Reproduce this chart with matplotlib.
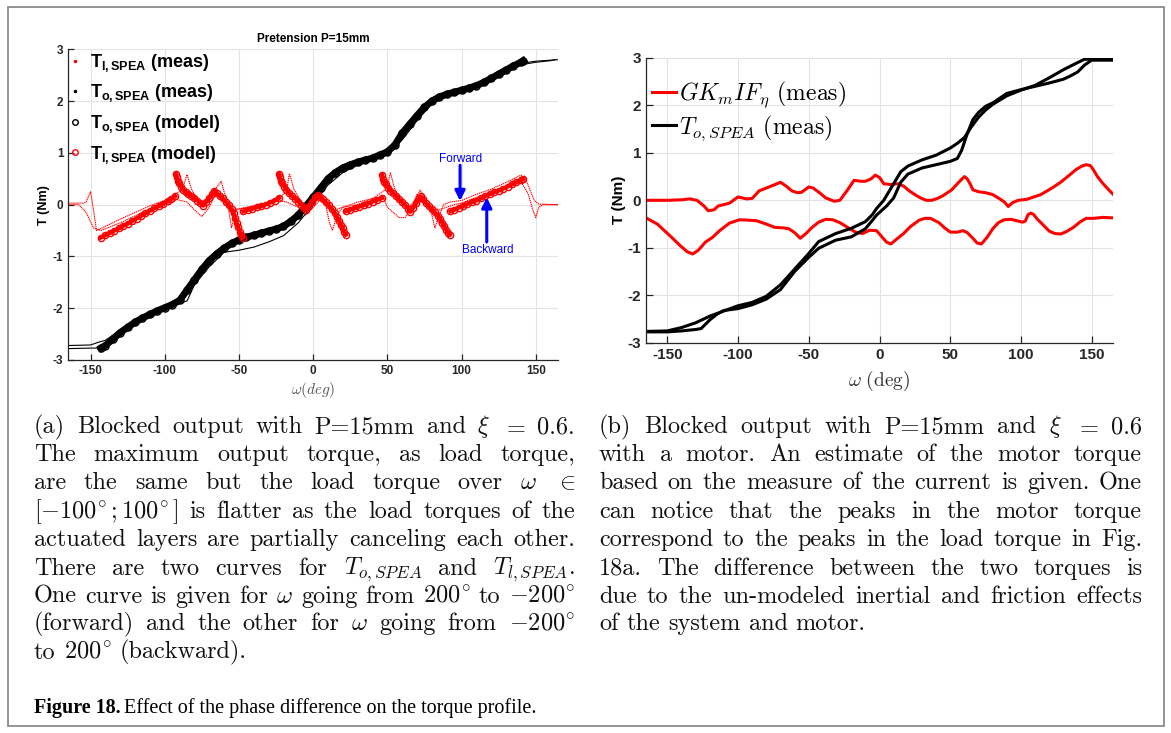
import numpy as np
import matplotlib
matplotlib.use('Agg')
import matplotlib.pyplot as plt
from matplotlib.font_manager import FontProperties
from matplotlib.lines import Line2D
from matplotlib.patches import Rectangle

plt.rcParams['axes.unicode_minus'] = False
plt.rcParams['mathtext.rm'] = 'Liberation Sans'
plt.rcParams['mathtext.bf'] = 'Liberation Sans:bold'
plt.rcParams['mathtext.it'] = 'Liberation Sans:italic'

# ---------------- data, panel (a) ----------------
# black model (thick band of circles)
to_model_x = [-143, -140, -135, -130, -125, -120, -115, -110, -105, -100, -95, -90, -85, -80, -75,
              -70, -65, -60, -55, -50, -45, -40, -35, -30, -25, -20, -15, -10, -5, 0, 5, 10, 15,
              20, 25, 30, 35, 40, 45, 50, 55, 60, 65, 70, 75, 80, 85, 90, 95, 100, 105, 110, 115,
              120, 125, 130, 135, 140, 141.5]
to_model_y = [-2.77, -2.72, -2.6, -2.47, -2.37, -2.27, -2.19, -2.12, -2.05, -1.99, -1.93, -1.85,
              -1.65, -1.45, -1.25, -1.08, -0.95, -0.84, -0.75, -0.68, -0.63, -0.59, -0.55, -0.51,
              -0.47, -0.42, -0.32, -0.2, -0.03, 0.14, 0.32, 0.5, 0.62, 0.71, 0.77, 0.82, 0.86, 0.9,
              0.96, 1.02, 1.15, 1.38, 1.55, 1.72, 1.88, 2.0, 2.08, 2.13, 2.17, 2.21, 2.25, 2.3,
              2.36, 2.44, 2.52, 2.6, 2.68, 2.75, 2.78]

# black measured, two branches
to_meas_a_x = [-165, -150, -145, -140, -130, -120, -110, -100, -90, -80, -70, -60, -50, -40, -30,
               -20, -10, 0, 10, 20, 30, 40, 50, 60, 70, 80, 90, 100, 110, 120, 130, 140, 150, 165]
to_meas_a_y = [-2.72, -2.71, -2.66, -2.62, -2.42, -2.24, -2.1, -1.98, -1.84, -1.45, -1.1, -0.84,
               -0.7, -0.61, -0.5, -0.4, -0.17, 0.15, 0.5, 0.7, 0.82, 0.9, 1.02, 1.33, 1.7, 2.0,
               2.13, 2.22, 2.32, 2.45, 2.6, 2.73, 2.77, 2.8]
to_meas_b_x = [-165, -150, -143, -130, -120, -110, -100, -90, -85, -80, -70, -60, -50, -40, -30,
               -20, -10, 0, 10, 20, 30, 40, 50, 60, 70, 80, 90, 100, 110, 120, 130, 140, 150,
               160, 163]
to_meas_b_y = [-2.78, -2.77, -2.77, -2.5, -2.3, -2.14, -2.04, -1.9, -1.86, -1.55, -1.2, -0.92,
               -0.88, -0.82, -0.72, -0.6, -0.35, 0.0, 0.38, 0.62, 0.76, 0.86, 0.98, 1.25, 1.62,
               1.95, 2.1, 2.2, 2.3, 2.42, 2.57, 2.7, 2.75, 2.78, 2.8]

# red model (circles), pieces separated by NaN
tl_model_x = [-143.3, -140, -137, -134, -131, -128, -125, -122, -119, -116, -113, -110, -107, -104,
              -101, -98, -95.5, -93, np.nan,
              -92.5, -92, -91.3, -90.4, -89, -87.5, -86, -84, -82, -80, -78, -76, -74, -72, -70,
              -68, -66.5, -65, -63, -61, -59, -57, -55, -53.5, -52.5, -51.5, -50.5, -49.5, -48.5,
              -47.5, np.nan,
              -47, -44, -41, -38, -35, -32, -29, -26, -23, np.nan,
              -23, -22.5, -21.8, -20.8, -19.5, -18, -16, -14, -12, -10, -8, -6, -4.5, -2.5, -0.5,
              1.5, 3, 4.5, 6.5, 8.5, 10.5, 12.5, 14.5, 16, 17.5, 18.7, 19.8, 20.8, 22, np.nan,
              22, 25, 28, 31, 34, 37, 40, 43, 46.5, np.nan,
              46.5, 47, 47.8, 49, 50.5, 52, 54, 56, 58, 60, 62, 64, 65.5, 67.5, 69.5, 71.5, 72.5,
              74, 76, 78, 80, 82, 84, 85.5, 87, 88.5, 89.7, 90.8, 92, np.nan,
              92.5, 95, 98, 101, 104, 107, 110, 113, 116, 119, 122, 125, 128, 131, 134, 137, 140,
              141.6]
tl_model_y = [-0.64, -0.59, -0.55, -0.5, -0.46, -0.41, -0.37, -0.32, -0.27, -0.22, -0.17, -0.12,
              -0.07, -0.03, 0.02, 0.07, 0.11, 0.16, np.nan,
              0.6, 0.53, 0.46, 0.41, 0.35, 0.29, 0.24, 0.2, 0.16, 0.12, 0.08, 0.03, -0.02, 0.05,
              0.12, 0.2, 0.27, 0.22, 0.17, 0.12, 0.06, 0.0, -0.08, -0.17, -0.26, -0.35, -0.44,
              -0.52, -0.58, -0.64, np.nan,
              -0.13, -0.1, -0.08, -0.05, -0.03, 0.0, 0.04, 0.08, 0.13, np.nan,
              0.6, 0.53, 0.46, 0.41, 0.35, 0.29, 0.22, 0.16, 0.11, 0.06, 0.0, -0.06, -0.1, -0.02,
              0.06, 0.14, 0.19, 0.15, 0.1, 0.05, -0.01, -0.08, -0.16, -0.23, -0.31, -0.39, -0.46,
              -0.52, -0.58, np.nan,
              -0.13, -0.1, -0.07, -0.04, -0.01, 0.02, 0.06, 0.09, 0.13, np.nan,
              0.57, 0.5, 0.44, 0.39, 0.33, 0.27, 0.22, 0.16, 0.1, 0.05, -0.01, -0.08, -0.14, -0.06,
              0.03, 0.12, 0.16, 0.1, 0.03, -0.03, -0.09, -0.15, -0.21, -0.27, -0.35, -0.42, -0.49,
              -0.54, -0.58, np.nan,
              -0.13, -0.1, -0.06, -0.03, 0.01, 0.05, 0.08, 0.12, 0.16, 0.2, 0.24, 0.27, 0.31,
              0.35, 0.39, 0.43, 0.47, 0.5]

# red measured, forward and backward
tl_fwd_x = [-165, -155, -153, -150, -148, -146, -140, -130, -120, -110, -100, -92, -88, -85, -82,
            -78, -74, -70, -66, -62, -59, -57, -55, -52, -45, -35, -25, -18, -16, -13, -8, -4, 0,
            4, 8, 11, 13, 16, 20, 30, 40, 47, 50, 52, 55, 60, 64, 68, 72, 76, 80, 82, 85, 88, 92,
            100, 110, 120, 130, 140, 143, 146, 149, 152, 165]
tl_fwd_y = [0.03, 0.03, 0.05, 0.25, -0.1, -0.5, -0.42, -0.28, -0.15, -0.02, 0.08, 0.22, 0.3,
            0.58, 0.3, 0.1, 0.0, 0.2, 0.3, 0.45, 0.15, -0.1, -0.45, -0.1, -0.05, 0.0, 0.08, 0.25,
            0.6, 0.3, 0.05, -0.1, 0.05, 0.2, 0.05, -0.35, -0.5, -0.2, -0.05, 0.0, 0.12, 0.25,
            0.35, 0.62, 0.3, 0.05, -0.05, 0.05, 0.28, 0.1, -0.2, -0.45, -0.2, 0.0, 0.05, 0.08,
            0.2, 0.3, 0.43, 0.57, 0.5, 0.3, 0.08, 0.01, 0.0]
tl_bwd_x = [-165, -158, -153, -148, -143, -130, -115, -100, -92, -85, -80, -75, -70, -65, -60,
            -55, -50, -40, -30, -23, -18, -10, -5, 0, 5, 10, 15, 20, 30, 40, 47, 50, 58, 62, 67,
            70, 74, 80, 85, 90, 95, 100, 120, 140, 145, 148, 150, 152, 155, 165]
tl_bwd_y = [0.0, 0.0, -0.15, -0.45, -0.5, -0.35, -0.15, -0.02, 0.1, 0.05, -0.1, -0.23, -0.05,
            0.25, 0.05, -0.1, -0.08, -0.05, 0.0, 0.08, 0.05, -0.05, -0.2, -0.05, 0.1, -0.05,
            -0.1, -0.05, 0.05, 0.12, 0.15, -0.05, -0.25, -0.25, 0.0, 0.2, 0.05, -0.05, -0.1,
            -0.05, 0.0, 0.03, 0.25, 0.45, 0.2, -0.1, -0.25, -0.05, 0.0, 0.0]

# ---------------- data, panel (b) ----------------
gk_up_x = [-165, -150, -140, -134, -129, -124, -121, -117, -114, -110, -106, -100, -94, -90, -85,
           -79, -74, -70, -66, -62, -58, -55, -50, -47, -42, -38, -32, -28, -23, -18, -13, -10,
           -6, -3, 0, 3, 8, 13, 17, 21, 25, 29, 33, 37, 41, 45, 51, 56, 60, 62, 64, 66, 70, 75,
           80, 85, 88, 91, 94, 98, 104, 109, 114, 118, 123, 128, 133, 139, 143, 146, 149, 151,
           154, 158, 162, 165]
gk_up_y = [0.0, 0.0, 0.01, 0.03, 0.0, -0.12, -0.22, -0.2, -0.12, -0.09, -0.06, 0.07, 0.03, 0.04,
           0.2, 0.27, 0.33, 0.38, 0.3, 0.2, 0.16, 0.17, 0.28, 0.26, 0.15, 0.05, -0.02, 0.0, 0.2,
           0.42, 0.4, 0.4, 0.45, 0.53, 0.48, 0.35, 0.33, 0.35, 0.3, 0.2, 0.12, 0.05, 0.0, 0.0,
           0.04, 0.1, 0.22, 0.38, 0.5, 0.45, 0.35, 0.22, 0.18, 0.16, 0.12, 0.03, -0.03, -0.13,
           -0.05, 0.0, 0.02, 0.07, 0.12, 0.19, 0.28, 0.38, 0.5, 0.65, 0.72, 0.75, 0.73, 0.65,
           0.5, 0.35, 0.22, 0.13]
gk_lo_x = [-165, -157, -149, -141, -136, -132, -128, -123, -118, -113, -106, -99, -92, -87, -80,
           -74, -68, -64, -60, -56, -52, -48, -43, -38, -33, -28, -22, -17, -12, -7, -2, 2, 5, 8,
           12, 17, 22, 28, 32, 36, 42, 46, 50, 55, 59, 62, 66, 69, 72, 76, 80, 84, 88, 93, 97,
           101, 103, 105, 107, 109, 111, 115, 120, 124, 128, 132, 137, 142, 146, 151, 158, 165]
gk_lo_y = [-0.37, -0.5, -0.72, -0.95, -1.08, -1.13, -1.05, -0.88, -0.78, -0.64, -0.48, -0.41,
           -0.42, -0.43, -0.5, -0.57, -0.58, -0.6, -0.68, -0.8, -0.7, -0.58, -0.46, -0.4, -0.41,
           -0.47, -0.58, -0.67, -0.7, -0.63, -0.64, -0.78, -0.88, -0.92, -0.82, -0.7, -0.55,
           -0.42, -0.38, -0.38, -0.47, -0.58, -0.67, -0.67, -0.64, -0.68, -0.8, -0.9, -0.92,
           -0.78, -0.6, -0.47, -0.41, -0.4, -0.43, -0.46, -0.44, -0.3, -0.27, -0.3, -0.38, -0.5,
           -0.65, -0.7, -0.71, -0.66, -0.57, -0.45, -0.38, -0.38, -0.36, -0.37]
to1_x = [-165, -150, -140, -130, -120, -110, -100, -90, -80, -70, -60, -50, -43, -31, -20, -10,
         -5, -2, 3, 8, 15, 20, 30, 40, 50, 55, 60, 65, 70, 75, 80, 90, 100, 110, 120, 130, 140,
         145, 150, 165]
to1_y = [-2.76, -2.75, -2.68, -2.58, -2.44, -2.33, -2.22, -2.15, -2.02, -1.78, -1.45, -1.12,
         -0.87, -0.7, -0.59, -0.45, -0.3, -0.17, 0.0, 0.25, 0.6, 0.72, 0.85, 0.95, 1.1, 1.2, 1.32,
         1.55, 1.75, 1.9, 2.02, 2.2, 2.32, 2.42, 2.58, 2.75, 2.9, 2.97, 2.97, 2.97]
to2_x = [-165, -150, -140, -130, -126, -120, -115, -110, -100, -90, -80, -70, -60, -50, -43, -31,
         -20, -10, -5, -2, 5, 10, 15, 20, 30, 40, 50, 55, 58, 62, 66, 70, 75, 80, 90, 100, 110,
         120, 130, 135, 140, 145, 150, 165]
to2_y = [-2.77, -2.77, -2.75, -2.72, -2.7, -2.52, -2.4, -2.32, -2.28, -2.2, -2.08, -1.88, -1.5,
         -1.2, -1.01, -0.84, -0.77, -0.6, -0.42, -0.31, -0.12, 0.05, 0.38, 0.55, 0.68, 0.75, 0.82,
         0.88, 1.05, 1.4, 1.7, 1.85, 1.98, 2.05, 2.25, 2.33, 2.4, 2.47, 2.55, 2.62, 2.7, 2.85,
         2.95, 2.95]

ticks_x = [-150, -100, -50, 0, 50, 100, 150]
ticks_y = [-3, -2, -1, 0, 1, 2, 3]

cap_a = [r"(a) Blocked output with P=15mm and $\xi$ $=$ 0.6.",
         r"The maximum output torque, as load torque,",
         r"are the same but the load torque over $\omega$ $\in$",
         r"$[-100^{\!\circ};100^{\!\circ}]$ is flatter as the load torques of the",
         r"actuated layers are partially canceling each other.",
         r"There are two curves for $T_{o,SPEA}$ and $T_{l,SPEA}$.",
         r"One curve is given for $\omega$ going from $200^{\!\circ}$ to $-200^{\!\circ}$",
         r"(forward) and the other for $\omega$ going from $-200^{\!\circ}$",
         r"to $200^{\!\circ}$ (backward)."]
cap_b = [r"(b) Blocked output with P=15mm and $\xi$ $=$ 0.6",
         r"with a motor.  An estimate of the motor torque",
         r"based on the measure of the current is given. One",
         r"can notice that the peaks in the motor torque",
         r"correspond to the peaks in the load torque in Fig.",
         r"18a.  The difference between the two torques is",
         r"due to the un-modeled inertial and friction effects",
         r"of the system and motor."]

W, H = 1171, 733
fig = plt.figure(figsize=(W / 100, H / 100), dpi=100)


def px_ax(l, t, r, b):
    return [l / W, 1 - b / H, (r - l) / W, (b - t) / H]


def style_axes(ax, fs, ticklen):
    for s in ['top', 'right']:
        ax.spines[s].set_visible(False)
    for s in ['left', 'bottom']:
        ax.spines[s].set_color('#262626')
        ax.spines[s].set_linewidth(0.9)
    ax.set_xlim(-165, 165)
    ax.set_ylim(-3, 3)
    ax.set_xticks(ticks_x)
    ax.set_yticks(ticks_y)
    ax.tick_params(direction='in', length=ticklen, width=0.9, colors='#262626',
                   labelsize=fs, labelcolor='#262626')
    for lab in ax.get_xticklabels() + ax.get_yticklabels():
        lab.set_fontweight('bold')
        lab.set_family('Liberation Sans')
    ax.grid(True, color='#e3e3e3', lw=0.8)
    ax.set_axisbelow(True)


# ---------------- panel (a) ----------------
ax1 = fig.add_axes(px_ax(68.3, 49.3, 558, 360))
style_axes(ax1, 8.5, 4)
ax1.plot(tl_fwd_x, tl_fwd_y, color='red', lw=0.8, ls=(0, (1.2, 0.6)))
ax1.plot(tl_bwd_x, tl_bwd_y, color='red', lw=0.8, ls=(0, (1.2, 0.6)))
ax1.plot(to_meas_a_x, to_meas_a_y, color='black', lw=0.8)
ax1.plot(to_meas_b_x, to_meas_b_y, color='black', lw=0.8)
ax1.plot(to_model_x, to_model_y, color='black', lw=5, marker='o', ms=5, mfc='none',
         mew=1.1)
ax1.plot(tl_model_x, tl_model_y, color='red', lw=3, marker='o', ms=4.5, mfc='none', mew=1.0)

ax1.set_title('Pretension P=15mm', fontsize=8.5, fontweight='bold', family='Liberation Sans',
              pad=5)
ax1.set_ylabel('T (Nm)', fontsize=9, fontweight='bold', family='Liberation Sans', labelpad=2)
ax1.set_xlabel(r'$\omega(deg)$', fontsize=11, color='#555555', math_fontfamily='cm',
               labelpad=2)

ax1.annotate('', xy=(99, 0.07), xytext=(99, 0.76),
             arrowprops=dict(arrowstyle='-|>', color='blue', lw=2.2, mutation_scale=15,
                             shrinkA=0, shrinkB=0))
ax1.text(99.5, 0.89, 'Forward', color='blue', fontsize=8.5, family='Liberation Sans',
         ha='center', va='center')
ax1.annotate('', xy=(117, 0.14), xytext=(117, -0.72),
             arrowprops=dict(arrowstyle='-|>', color='blue', lw=2.2, mutation_scale=15,
                             shrinkA=0, shrinkB=0))
ax1.text(117.5, -0.87, 'Backward', color='blue', fontsize=8.5, family='Liberation Sans',
         ha='center', va='center')

handles_a = [Line2D([], [], ls='none', marker='.', ms=3, color='red'),
             Line2D([], [], ls='none', marker='.', ms=3, color='black'),
             Line2D([], [], ls='none', marker='o', ms=4, mfc='none', color='black'),
             Line2D([], [], ls='none', marker='o', ms=4, mfc='none', color='red')]
labels_a = [r'$\mathbf{T}_{\mathbf{l,SPEA}}$ (meas)', r'$\mathbf{T}_{\mathbf{o,SPEA}}$ (meas)',
            r'$\mathbf{T}_{\mathbf{o,SPEA}}$ (model)', r'$\mathbf{T}_{\mathbf{l,SPEA}}$ (model)']
leg_a = ax1.legend(handles_a, labels_a, loc='upper left', bbox_to_anchor=(-0.005, 1.009),
                   frameon=False, handlelength=0.4, handletextpad=0.65, labelspacing=0.48,
                   borderaxespad=0, borderpad=0.3,
                   prop=FontProperties(family='Liberation Sans', weight='bold', size=13,
                                       math_fontfamily='custom'))

# ---------------- panel (b) ----------------
ax2 = fig.add_axes(px_ax(646, 57.8, 1113, 342.8))
style_axes(ax2, 11, 5)
ax2.plot(gk_up_x, gk_up_y, color='red', lw=2.2)
ax2.plot(gk_lo_x, gk_lo_y, color='red', lw=2.2)
ax2.plot(to1_x, to1_y, color='black', lw=2.2)
ax2.plot(to2_x, to2_y, color='black', lw=2.2)
ax2.set_ylabel('T (Nm)', fontsize=11, fontweight='bold', family='Liberation Sans', labelpad=1)
ax2.set_xlabel(r'$\omega\ \mathrm{(deg)}$', fontsize=14, color='#333333', math_fontfamily='cm',
               labelpad=5)
handles_b = [Line2D([], [], color='red', lw=2.2), Line2D([], [], color='black', lw=2.2)]
labels_b = [r'$GK_mIF_\eta$ (meas)', r'$T_{o,SPEA}$ (meas)']
ax2.legend(handles_b, labels_b, loc='upper left', bbox_to_anchor=(0.003, 0.94), frameon=False,
           handlelength=1.0, handletextpad=0.15, labelspacing=0.13, borderaxespad=0,
           borderpad=0.2,
           prop=FontProperties(family='cmr10', size=17, math_fontfamily='cm'))

# ---------------- captions ----------------
renderer = fig.canvas.get_renderer()
cap_fs = 17.5


def justify(line, x0, x1, y, last):
    words = line.split()
    objs = [fig.text(0, 1 - y / H, w, fontsize=cap_fs, family='cmr10', math_fontfamily='cm',
                     va='baseline', ha='left', color='#111111') for w in words]
    ws = [o.get_window_extent(renderer).width for o in objs]
    if last or len(words) == 1:
        gap = cap_fs * 100 / 72 * 0.33
    else:
        gap = (x1 - x0 - sum(ws)) / (len(words) - 1)
    x = x0
    for o, w in zip(objs, ws):
        o.set_x(x / W)
        x += w + gap


line_y = [433, 461.3, 489.3, 517.7, 546, 574.7, 602.7, 630.3, 658.7]
for i, ln in enumerate(cap_a):
    justify(ln, 34, 575, line_y[i], i == len(cap_a) - 1)
for i, ln in enumerate(cap_b):
    justify(ln, 599, 1142, line_y[i], i == len(cap_b) - 1)

t1 = fig.text(34 / W, 1 - 713 / H, 'Figure 18.', fontsize=14.5, fontweight='bold',
              family='Liberation Serif', va='baseline')
w1 = t1.get_window_extent(renderer).width
fig.text((34 + w1 + 3) / W, 1 - 713 / H, 'Effect of the phase difference on the torque profile.',
         fontsize=14.5, family='Liberation Serif', va='baseline')

fig.add_artist(Rectangle((8 / W, 1 - 726 / H), (1164 - 8) / W, (726 - 7) / H,
                         transform=fig.transFigure, fill=False, ec='#8c8c8c', lw=1.3))

fig.savefig('out.png', dpi=100)
